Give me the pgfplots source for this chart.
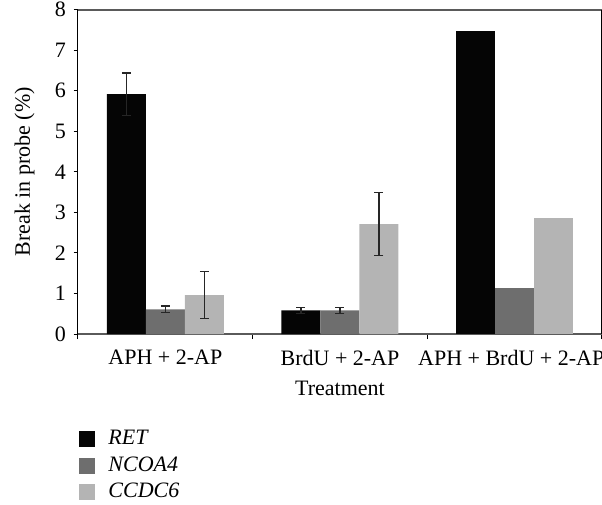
\documentclass[border=0pt]{standalone}
\usepackage{fontspec}
\setmainfont{Liberation Serif}
\usepackage{pgfplots}
\pgfplotsset{compat=1.18}
\definecolor{cRET}{HTML}{050505}
\definecolor{cNCO}{HTML}{6E6E6E}
\definecolor{cCCD}{HTML}{B4B4B4}
\definecolor{axgray}{HTML}{5A5A5A}
\begin{document}
\fontsize{11}{13}\selectfont
\begin{tikzpicture}
\begin{scope}
\clip (0,0) rectangle (301pt,252.5pt);
\begin{axis}[
  at={(39pt,85.5pt)}, anchor=south west,
  scale only axis, width=262pt, height=162.15pt,
  xmin=-0.5, xmax=2.5, ymin=0, ymax=8,
  ybar=0pt, bar width=19.5pt,
  /pgf/number format/assume math mode=true,
  xtick={0,1,2},
  xticklabels={APH + 2-AP, BrdU + 2-AP, {\hspace*{-3.4pt}APH + BrdU + 2-AP}},
  minor xtick={-0.5,0.5,1.5,2.5},
  ytick={0,1,...,8},
  xtick pos=bottom, ytick pos=left,
  tick align=outside,
  major tick length=2.2pt, minor tick length=2.5pt,
  xtick style={draw=none},
  minor x tick style={black, line width=0.5pt, draw=black},
  ytick style={black, line width=0.5pt},
  separate axis lines,
  x axis line style={axgray, line width=0.8pt},
  y axis line style={black, line width=0.5pt},
  xticklabel style={yshift=-2pt},
  xlabel={Treatment},
  ylabel={Break in probe (\%)},
  every axis x label/.style={at={(axis description cs:0.5,-0.1665)}, anchor=center},
  every axis y label/.style={at={(axis description cs:-0.102,0.5)}, rotate=90, anchor=center},
  legend style={at={(axis description cs:0.002,-0.288)}, anchor=north west,
    draw=none, fill=none, inner sep=0pt, font=\itshape,
    nodes={inner sep=1pt, text height=7.5pt, text depth=2pt},
    row sep=1.75pt, column sep=5.5pt},
  legend cell align=left,
  legend image code/.code={\fill[#1] (0pt,-4pt) rectangle (8pt,4pt);},
  error bars/y dir=both, error bars/y explicit,
  error bars/error bar style={black!85, line width=0.6pt},
  error bars/error mark options={rotate=90, mark size=2.25pt, line width=0.6pt, black!85},
]
\addplot[fill=cRET, draw=none, bar shift=-19.5pt] coordinates {(0,5.92) +- (0,0.52) (1,0.58) +- (0,0.07)};
\addplot[fill=cNCO, draw=none, bar shift=0pt] coordinates {(0,0.61) +- (0,0.08) (1,0.58) +- (0,0.07)};
\addplot[fill=cCCD, draw=none, bar shift=19.5pt] coordinates {(0,0.96) +- (0,0.58) (1,2.71) +- (0,0.78)};
\addplot[fill=cRET, draw=none, bar shift=-19.5pt, forget plot, error bars/y dir=none] coordinates {(2,7.48)};
\addplot[fill=cNCO, draw=none, bar shift=0pt, forget plot, error bars/y dir=none] coordinates {(2,1.13)};
\addplot[fill=cCCD, draw=none, bar shift=19.5pt, forget plot, error bars/y dir=none] coordinates {(2,2.87)};
\legend{RET, NCOA4, CCDC6}
\end{axis}
\end{scope}
\pgfresetboundingbox
\useasboundingbox (0,0) rectangle (301pt,252.5pt);
\end{tikzpicture}
\end{document}
